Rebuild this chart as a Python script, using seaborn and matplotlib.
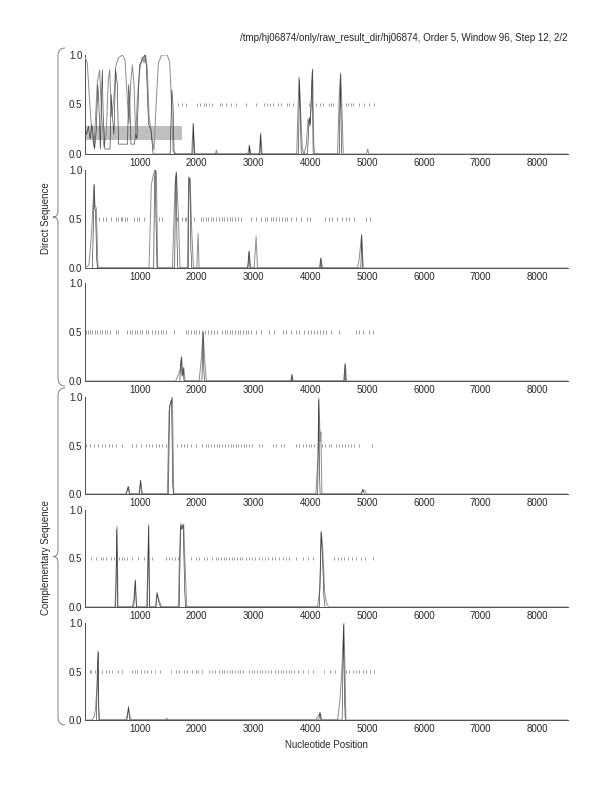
import numpy as np
import matplotlib
matplotlib.use("Agg")
import matplotlib.pyplot as plt
from matplotlib.path import Path
from matplotlib.patches import PathPatch, Rectangle
import seaborn as sns

# ── 数据 ──────────────────────────────────────────────
TITLE = "/tmp/hj06874/only/raw_result_dir/hj06874, Order 5, Window 96, Step 12, 2/2"
X_LIM = (30, 8540)
X_MAJOR = [1000, 2000, 3000, 4000, 5000, 6000, 7000, 8000]
X_MINOR = [746, 1452, 2158, 2863, 3569, 4274, 4980, 5686, 6392, 7098, 7804, 8510]
Y_TICKS = [0.0, 0.5, 1.0]
Y_TICK_LABELS = ["0.0", "0.5", "1.0"]

# panel 1 (direct, frame 1)
p1_gray_x = [29, 70, 111, 147, 188, 217, 247, 288, 323, 364, 405, 441, 464, 499, 541, 570,
             617, 688, 735, 776, 805, 835, 864, 893, 923, 952, 993, 1040, 1070, 1099, 1129,
             1158, 1205, 1246, 1287, 1323, 1381, 1481, 1523, 1558, 1581, 1628, 1910, 1935,
             1965, 2330, 2345, 2360, 2900, 2925, 2950, 3100, 3125, 3150, 3760, 3800, 3830,
             3860, 3890, 3930, 3960, 3990, 4010, 4040, 4060, 4080, 4480, 4510, 4535, 4555,
             4580, 4990, 5010, 5030, 8540]
p1_gray_y = [0.98, 0.92, 0.54, 0.24, 0.07, 0.38, 0.72, 0.85, 0.38, 0.07, 0.21, 0.75, 0.85,
             0.38, 0.58, 0.88, 0.97, 1.0, 0.95, 0.55, 0.31, 0.71, 0.90, 0.71, 0.17, 0.55,
             0.85, 0.98, 0.92, 1.0, 0.85, 0.38, 0.18, 0.04, 0.55, 0.92, 1.0, 1.0, 0.92, 0.47,
             0.04, 0.0, 0.0, 0.31, 0.0, 0.0, 0.04, 0.0, 0.0, 0.09, 0.0, 0.0, 0.21, 0.0, 0.0,
             0.78, 0.4, 0.05, 0.0, 0.1, 0.35, 0.28, 0.45, 0.86, 0.1, 0.0, 0.0, 0.6, 0.82,
             0.5, 0.0, 0.0, 0.05, 0.0, 0.0]
p1_black_x = [30, 60, 90, 120, 150, 175, 200, 230, 255, 275, 300, 320, 335, 350, 380, 470,
              490, 510, 540, 570, 600, 620, 780, 800, 820, 840, 900, 925, 945, 990, 1040,
              1080, 1110, 1150, 1190, 1230, 1530, 1560, 1580, 1600, 1930, 1940, 1955, 2920,
              2930, 2940, 3110, 3125, 3135, 3790, 3810, 3840, 3950, 3980, 4000, 4035, 4050,
              4510, 4530, 4550]
p1_black_y = [0.25, 0.2, 0.28, 0.15, 0.3, 0.18, 0.05, 0.25, 0.7, 0.5, 0.05, 0.55, 0.85, 0.4,
              0.05, 0.05, 0.6, 0.4, 0.2, 0.85, 0.7, 0.1, 0.1, 0.7, 0.5, 0.1, 0.1, 0.2, 0.15,
              0.9, 0.95, 1.0, 0.9, 0.3, 0.25, 0.0, 0.0, 0.65, 0.5, 0.0, 0.0, 0.3, 0.0, 0.0,
              0.08, 0.0, 0.0, 0.2, 0.0, 0.0, 0.75, 0.0, 0.0, 0.37, 0.3, 0.85, 0.0, 0.0, 0.8,
              0.0]
p1_stops = [1675, 1734, 1805, 2011, 2052, 2128, 2169, 2216, 2263, 2410, 2452, 2510, 2599,
            2699, 2863, 3040, 3187, 3234, 3287, 3345, 3422, 3481, 3581, 3628, 3698, 3980,
            4098, 4169, 4227, 4321, 4363, 4404, 4539, 4627, 4669, 4715, 4757, 4863, 4939,
            5027, 5127]
p1_region_x = [30, 1746]
p1_region_y = [0.14, 0.28]

# panel 2 (direct, frame 2)
p2_gray_x = [30, 100, 147, 188, 205, 229, 258, 1158, 1199, 1234, 1264, 1287, 1311, 1570,
             1617, 1640, 1675, 1705, 1834, 1858, 1881, 1911, 1940, 1999, 2022, 2040, 2893,
             2922, 2951, 3010, 3045, 3069, 4157, 4186, 4216, 4833, 4862, 4904, 4933, 8540]
p2_gray_y = [0.0, 0.03, 0.37, 0.85, 0.64, 0.61, 0.0, 0.0, 0.85, 0.95, 1.0, 0.98, 0.0, 0.0,
             0.85, 0.98, 0.54, 0.0, 0.0, 0.93, 0.91, 0.37, 0.0, 0.0, 0.35, 0.0, 0.0, 0.17,
             0.0, 0.0, 0.32, 0.0, 0.0, 0.1, 0.0, 0.0, 0.1, 0.34, 0.0, 0.0]
p2_black_x = [160, 180, 192, 200, 215, 235, 250, 1240, 1255, 1268, 1280, 1300, 1610, 1625,
              1638, 1650, 1665, 1850, 1862, 1878, 1895, 1910, 2900, 2920, 2935, 4175, 4186,
              4196, 4890, 4905, 4920]
p2_black_y = [0.0, 0.5, 0.85, 0.6, 0.6, 0.1, 0.0, 0.0, 0.9, 1.0, 0.5, 0.0, 0.0, 0.9, 0.97,
              0.3, 0.0, 0.0, 0.92, 0.9, 0.2, 0.0, 0.0, 0.17, 0.0, 0.0, 0.1, 0.0, 0.0, 0.33, 0.0]
p2_stops = [276, 347, 394, 482, 582, 617, 658, 688, 735, 776, 893, 940, 982, 1070, 1334,
            1393, 1646, 1746, 1787, 1817, 1952, 2069, 2111, 2158, 2205, 2246, 2287, 2334,
            2393, 2440, 2487, 2534, 2581, 2628, 2675, 2722, 2775, 2951, 3040, 3128, 3204,
            3245, 3304, 3345, 3392, 3451, 3498, 3545, 3592, 3657, 3745, 3833, 3933, 3998,
            4263, 4321, 4380, 4463, 4557, 4627, 4686, 4762, 4980, 5051]

# panel 3 (direct, frame 3)
p3_gray_x = [30, 1628, 1687, 1711, 1734, 1752, 1770, 1793, 2040, 2075, 2111, 2140, 2169,
             3657, 3675, 3698, 4586, 4615, 4639, 8540]
p3_gray_y = [0.0, 0.0, 0.08, 0.13, 0.25, 0.06, 0.14, 0.0, 0.0, 0.2, 0.5, 0.2, 0.0, 0.0,
             0.07, 0.0, 0.0, 0.18, 0.0, 0.0]
p3_black_x = [1700, 1725, 1740, 1760, 1775, 2090, 2111, 2125, 2135, 3665, 3675, 3685, 4600,
              4612, 4625]
p3_black_y = [0.0, 0.24, 0.05, 0.13, 0.0, 0.0, 0.5, 0.1, 0.0, 0.0, 0.06, 0.0, 0.0, 0.17, 0.0]
p3_stops = [41, 88, 123, 158, 205, 247, 288, 335, 376, 423, 464, 570, 617, 776, 817, 864,
            911, 952, 993, 1040, 1099, 1146, 1217, 1264, 1311, 1364, 1411, 1452, 1599, 1805,
            1852, 1899, 1952, 1993, 2040, 2099, 2146, 2193, 2246, 2305, 2363, 2452, 2499,
            2540, 2581, 2628, 2675, 2722, 2769, 2816, 2863, 2910, 2957, 3040, 3128, 3275,
            3363, 3510, 3569, 3657, 3745, 3804, 3892, 3951, 4010, 4069, 4116, 4169, 4216,
            4274, 4363, 4510, 4804, 4862, 4921, 5027, 5109]

# panel 4 (complementary, frame 1)
p4_gray_x = [30, 746, 782, 799, 823, 982, 1011, 1040, 1481, 1511, 1540, 1570, 1593, 4098,
             4133, 4151, 4174, 4186, 4204, 4892, 4921, 4968, 4990, 8540]
p4_gray_y = [0.0, 0.0, 0.05, 0.07, 0.0, 0.0, 0.14, 0.0, 0.0, 0.85, 0.95, 1.0, 0.0, 0.0,
             0.36, 0.99, 0.54, 0.64, 0.0, 0.0, 0.04, 0.03, 0.0, 0.0]
p4_black_x = [760, 790, 810, 990, 1008, 1025, 1500, 1520, 1555, 1575, 1590, 4130, 4148, 4160,
              4172, 4900, 4925, 4950]
p4_black_y = [0.0, 0.08, 0.0, 0.0, 0.14, 0.0, 0.0, 0.9, 0.97, 0.1, 0.0, 0.0, 0.97, 0.3, 0.0,
              0.0, 0.05, 0.0]
p4_stops = [41, 111, 188, 264, 335, 382, 452, 499, 570, 688, 852, 923, 1011, 1099, 1158,
            1217, 1276, 1334, 1393, 1452, 1658, 1717, 1775, 1834, 1893, 1981, 2099, 2158,
            2205, 2252, 2305, 2352, 2393, 2452, 2499, 2546, 2599, 2640, 2687, 2734, 2781,
            2828, 2875, 2922, 2981, 3098, 3157, 3334, 3392, 3481, 3539, 3745, 3804, 3875,
            3922, 3969, 4016, 4069, 4127, 4204, 4263, 4321, 4363, 4451, 4510, 4557, 4604,
            4657, 4715, 4774, 4862, 5086]

# panel 5 (complementary, frame 2)
p5_gray_x = [30, 558, 576, 594, 611, 864, 893, 917, 940, 1117, 1134, 1152, 1170, 1276, 1299,
             1334, 1381, 1675, 1699, 1722, 1746, 1770, 1793, 1822, 4127, 4169, 4192, 4216,
             4251, 4286, 4322, 8540]
p5_gray_y = [0.0, 0.0, 0.23, 0.83, 0.0, 0.0, 0.09, 0.28, 0.0, 0.0, 0.36, 0.85, 0.0, 0.0,
             0.15, 0.07, 0.0, 0.0, 0.64, 0.86, 0.81, 0.85, 0.43, 0.0, 0.0, 0.19, 0.78, 0.64,
             0.16, 0.04, 0.0, 0.0]
p5_black_x = [570, 590, 605, 890, 915, 935, 1130, 1150, 1165, 1280, 1300, 1330, 1360, 1690,
              1715, 1735, 1760, 1785, 1800, 4160, 4190, 4215, 4240, 4260]
p5_black_y = [0.0, 0.8, 0.0, 0.0, 0.27, 0.0, 0.0, 0.83, 0.0, 0.0, 0.14, 0.05, 0.0, 0.0, 0.84,
              0.8, 0.85, 0.2, 0.0, 0.0, 0.77, 0.5, 0.1, 0.0]
p5_stops = [129, 217, 305, 347, 394, 482, 541, 629, 676, 723, 776, 864, 970, 1070, 1217,
            1452, 1511, 1570, 1617, 1675, 1893, 1981, 2040, 2128, 2187, 2275, 2334, 2381,
            2428, 2475, 2522, 2569, 2616, 2663, 2710, 2757, 2804, 2863, 2922, 2981, 3028,
            3087, 3157, 3204, 3263, 3322, 3381, 3451, 3510, 3569, 3628, 3745, 3863, 3951,
            4039, 4421, 4480, 4539, 4598, 4657, 4733, 4804, 4892, 4968, 5098]

# panel 6 (complementary, frame 3)
p6_gray_x = [30, 158, 194, 217, 241, 258, 270, 288, 746, 776, 799, 823, 846, 1452, 1470,
             1490, 4098, 4127, 4174, 4204, 4480, 4521, 4557, 4592, 4610, 4627, 8540]
p6_gray_y = [0.0, 0.0, 0.04, 0.12, 0.36, 0.71, 0.12, 0.0, 0.0, 0.05, 0.12, 0.04, 0.0, 0.0,
             0.02, 0.0, 0.0, 0.03, 0.07, 0.0, 0.0, 0.19, 0.54, 1.0, 0.54, 0.0, 0.0]
p6_black_x = [230, 255, 265, 275, 770, 795, 815, 4150, 4170, 4185, 4560, 4585, 4600, 4615]
p6_black_y = [0.0, 0.6, 0.7, 0.0, 0.0, 0.14, 0.0, 0.0, 0.08, 0.0, 0.0, 0.98, 0.3, 0.0]
p6_stops = [111, 129, 205, 264, 323, 394, 452, 511, 617, 676, 864, 911, 952, 1011, 1070,
            1129, 1187, 1264, 1346, 1540, 1628, 1687, 1775, 1834, 1911, 1981, 2028, 2087,
            2216, 2275, 2322, 2393, 2440, 2487, 2534, 2581, 2628, 2675, 2722, 2769, 2816,
            2922, 2969, 3016, 3063, 3110, 3157, 3204, 3251, 3304, 3381, 3428, 3475, 3522,
            3569, 3616, 3663, 3710, 3775, 3863, 3951, 4039, 4245, 4345, 4439, 4627, 4686,
            4745, 4804, 4862, 4921, 4980, 5051, 5127]

PANELS = [
    (p1_gray_x, p1_gray_y, p1_black_x, p1_black_y, p1_stops),
    (p2_gray_x, p2_gray_y, p2_black_x, p2_black_y, p2_stops),
    (p3_gray_x, p3_gray_y, p3_black_x, p3_black_y, p3_stops),
    (p4_gray_x, p4_gray_y, p4_black_x, p4_black_y, p4_stops),
    (p5_gray_x, p5_gray_y, p5_black_x, p5_black_y, p5_stops),
    (p6_gray_x, p6_gray_y, p6_black_x, p6_black_y, p6_stops),
]

# ── 布局（像素） ──────────────────────────────────────
W, H = 612, 792
AX_LEFT, AX_RIGHT = 85, 568
PANEL_Y = [(55, 154), (170, 268), (283, 381), (397, 494), (510, 607), (623, 720)]

sns.set_style("white")
plt.rcParams["font.family"] = ["Liberation Sans", "DejaVu Sans"]

fig = plt.figure(figsize=(W / 100, H / 100), dpi=100)
fig.patch.set_facecolor("white")

# 背景层：括号
bg = fig.add_axes([0, 0, 1, 1], zorder=-1)
bg.set_xlim(0, W)
bg.set_ylim(H, 0)
bg.axis("off")


def brace(y0, y1, x=58, tip=53):
    ym = (y0 + y1) / 2
    verts = [(x + 7, y0), (x, y0), (x, y0 + 8),
             (x, ym - 6),
             (x, ym), (tip, ym),
             (x, ym), (x, ym + 6),
             (x, y1 - 8),
             (x, y1), (x + 7, y1)]
    codes = [Path.MOVETO, Path.CURVE3, Path.CURVE3,
             Path.LINETO,
             Path.CURVE3, Path.CURVE3,
             Path.CURVE3, Path.CURVE3,
             Path.LINETO,
             Path.CURVE3, Path.CURVE3]
    bg.add_patch(PathPatch(Path(verts, codes), fill=False, edgecolor="0.5", lw=0.7))


brace(48, 386)
brace(388, 725)

for i, (gx, gy, bx, by, stops) in enumerate(PANELS):
    yt, yb = PANEL_Y[i]
    ax = fig.add_axes([AX_LEFT / W, 1 - yb / H, (AX_RIGHT - AX_LEFT) / W, (yb - yt) / H])
    ax.set_facecolor("none")

    if i == 0:
        ax.add_patch(Rectangle((p1_region_x[0], p1_region_y[0]),
                               p1_region_x[1] - p1_region_x[0],
                               p1_region_y[1] - p1_region_y[0],
                               facecolor="0.75", edgecolor="none", zorder=1))

    ax.vlines(stops, 0.483, 0.517, color="0.55", lw=0.6, zorder=2)
    sns.lineplot(x=gx, y=gy, ax=ax, color="0.55", lw=0.7, estimator=None, sort=False, zorder=3)
    sns.lineplot(x=bx, y=by, ax=ax, color="0.2", lw=0.45, estimator=None, sort=False, zorder=4)

    ax.set_xlim(*X_LIM)
    ax.set_ylim(0, 1)
    ax.set_xlabel("")
    ax.set_ylabel("")
    ax.set_xticks(X_MAJOR)
    ax.set_xticklabels([str(v) for v in X_MAJOR])
    ax.set_xticks(X_MINOR, minor=True)
    ax.set_yticks(Y_TICKS)
    ax.set_yticklabels(Y_TICK_LABELS)
    ax.tick_params(axis="x", which="major", direction="in", length=7, width=0.6,
                   color="0.6", labelsize=7, pad=3)
    ax.tick_params(axis="x", which="minor", direction="in", length=3, width=0.5, color="0.6")
    ax.tick_params(axis="y", direction="in", length=3, width=0.6, color="0.3",
                   labelsize=7, pad=2)
    ax.spines[["top", "right"]].set_visible(False)
    for s in ("left", "bottom"):
        ax.spines[s].set_color("0.3")
        ax.spines[s].set_linewidth(0.7)

fig.text(AX_RIGHT / W, 1 - 38 / H, TITLE, ha="right", va="center", fontsize=7)
fig.text((AX_LEFT + AX_RIGHT) / 2 / W, 1 - 745 / H, "Nucleotide Position",
         ha="center", va="center", fontsize=7)
fig.text(46 / W, 1 - 218 / H, "Direct Sequence", rotation=90, ha="center", va="center",
         fontsize=7)
fig.text(46 / W, 1 - 558 / H, "Complementary Sequence", rotation=90, ha="center",
         va="center", fontsize=7)

fig.savefig("out.png", dpi=100, facecolor="white")
